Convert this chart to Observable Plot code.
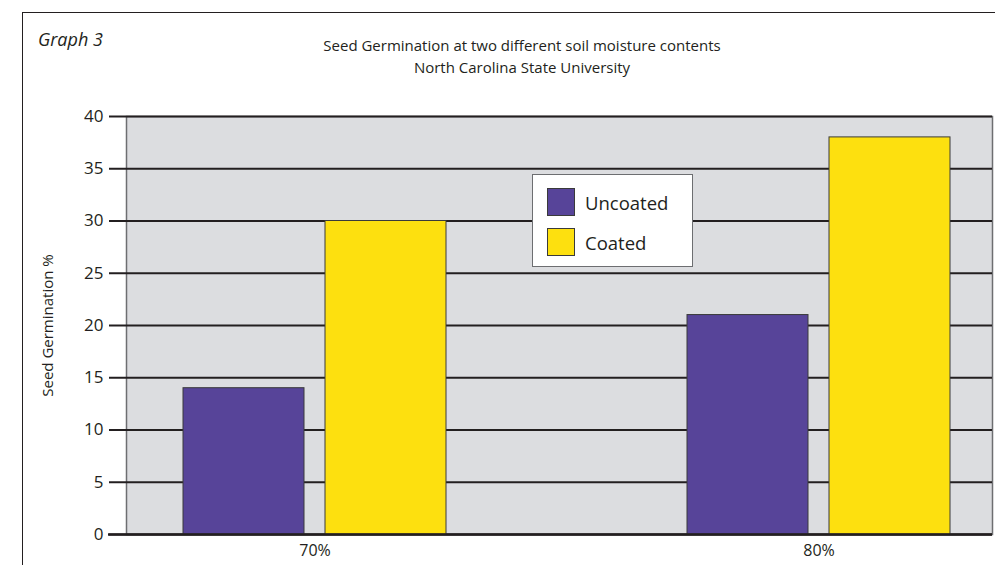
<!DOCTYPE html>
<html>
<head>
<meta charset="utf-8">
<script src="https://cdn.jsdelivr.net/npm/d3@7"></script>
<script src="https://cdn.jsdelivr.net/npm/@observablehq/plot@0.6"></script>
<style>
  html, body { margin: 0; padding: 0; background: #fff; }
  #wrap { position: relative; width: 995px; height: 565px; overflow: hidden; font-family: "Open Sans", sans-serif; color: #231f20; }
  #frame { position: absolute; left: 22px; top: 12px; width: 1000px; height: 600px; border: 1.5px solid #231f20; box-sizing: border-box; pointer-events: none; }
  #tag { position: absolute; left: 38px; top: 27px; font-size: 18px; font-style: italic; }
  #title { position: absolute; left: 222px; width: 600px; top: 34px; text-align: center; font-size: 15px; line-height: 22px; }
  #legend { position: absolute; left: 532px; top: 174px; width: 161px; height: 93px; box-sizing: border-box; background: #fff; border: 1px solid #6d6e71; }
  .item { position: absolute; left: 14px; display: flex; align-items: center; font-size: 18.5px; }
  .sw { width: 28px; height: 28px; box-sizing: border-box; border: 1px solid #3a3a3a; margin-right: 10px; }
  #chart { position: absolute; left: 0; top: 0; }
  #chart g[aria-label="y-axis tick label"] { font-size: 17px; }
  #chart g[aria-label="x-axis tick label"] { font-size: 16px; }
  #chart g[aria-label="y-axis label"] { font-size: 15px; }
</style>
</head>
<body>
<div id="wrap">
  <div id="chart"></div>
  <div id="frame"></div>
  <div id="tag">Graph 3</div>
  <div id="title">Seed Germination at two different soil moisture contents<br>North Carolina State University</div>
  <div id="legend"></div>
</div>
<script>
// Soil moisture levels and germination percentages for each seed treatment
const moisture = ["70%", "80%"];
const series = ["Uncoated", "Coated"];
const uncoated = [14, 21];
const coated = [30, 38];
const yTicks = [0, 5, 10, 15, 20, 25, 30, 35, 40];
const colors = ["#574499", "#fde00f"];

const rows = moisture.flatMap((m, i) => [
  {moisture: m, series: series[0], value: uncoated[i]},
  {moisture: m, series: series[1], value: coated[i]}
]);

const ink = "#231f20";
const half = 142; // inset that leaves each bar in its half of the group band

const chart = Plot.plot({
  width: 995,
  height: 565,
  marginLeft: 126,
  marginRight: 3,
  marginTop: 116,
  marginBottom: 31,
  style: {fontFamily: "'Open Sans', sans-serif", color: ink, background: "transparent"},
  x: {domain: moisture, paddingInner: 0.478, paddingOuter: 0.082, insetLeft: 15, label: null},
  y: {domain: [0, 40], label: null},
  color: {domain: series, range: colors},
  marks: [
    Plot.frame({fill: "#dcdde0", stroke: "#6d6e71", strokeWidth: 1.5}),
    Plot.gridY(yTicks, {stroke: ink, strokeOpacity: 1, strokeWidth: 2}),
    Plot.barY(rows.filter(d => d.series === series[0]), {x: "moisture", y: "value", fill: "series", stroke: "#3a3a3a", strokeWidth: 1, insetRight: half}),
    Plot.barY(rows.filter(d => d.series === series[1]), {x: "moisture", y: "value", fill: "series", stroke: "#3a3a3a", strokeWidth: 1, insetLeft: half}),
    Plot.ruleY([0], {stroke: ink, strokeWidth: 2.5, insetLeft: -18}),
    Plot.axisY({ticks: yTicks, tickSize: 17, tickPadding: 6, strokeWidth: 2, stroke: ink, fill: ink, label: null}),
    Plot.axisY({ticks: [], tickSize: 0, fill: ink,
      label: "Seed Germination %", labelAnchor: "center", labelOffset: 84, labelArrow: "none"}),
    Plot.axisX({tickSize: 0, tickPadding: 10, fill: ink})
  ]
});
document.getElementById("chart").append(chart);

// Legend box inside the plot area
const legend = document.getElementById("legend");
series.forEach((s, i) => {
  const item = document.createElement("div");
  item.className = "item";
  item.style.top = (13 + i * 40) + "px";
  item.innerHTML = `<div class="sw" style="background:${colors[i]}"></div><span>${s}</span>`;
  legend.append(item);
});
</script>
</body>
</html>
